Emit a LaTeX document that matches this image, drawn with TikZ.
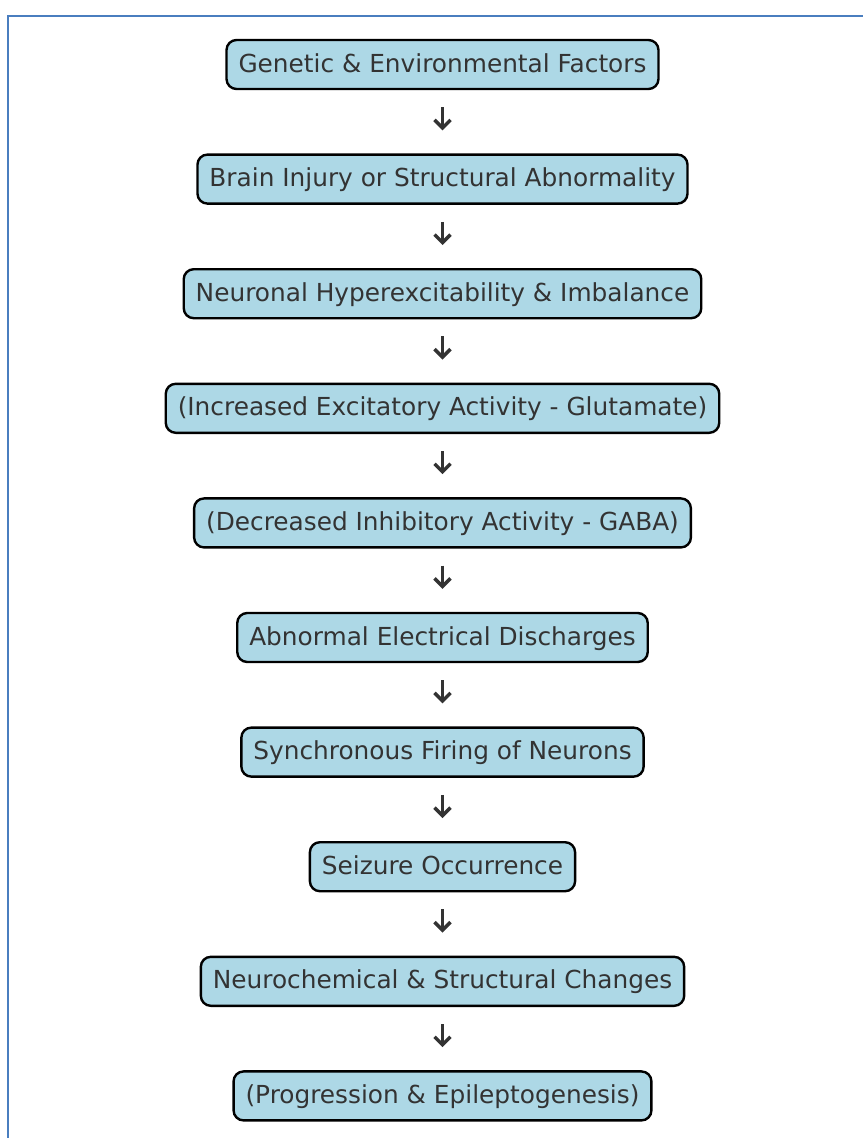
\documentclass[tikz,border=0pt]{standalone}
\usepackage{fontspec}
\setmainfont{DejaVu Sans}
\usetikzlibrary{arrows.meta}
\definecolor{boxfill}{HTML}{ADD8E6}
\definecolor{txt}{HTML}{333333}
\definecolor{framec}{HTML}{4A7EBF}
\begin{document}
\begin{tikzpicture}[x=0.75pt,y=-0.75pt,
  stage/.style={draw=black, line width=1.8pt, fill=boxfill, rounded corners=7.5pt,
    text=txt, font=\fontsize{18.6}{22}\selectfont, inner xsep=9pt, inner ysep=0pt,
    text height=14.4pt, text depth=3pt, minimum height=36.75pt},
  flow/.style={draw=txt, line width=2.6pt,
    -{Straight Barb[length=6pt,width=12pt,line width=2.6pt]},
    shorten <=12.75pt, shorten >=17.25pt}]
\useasboundingbox (0,0) rectangle (863,1138);
\draw[framec, line width=1pt] (8,1138) -- (8,16) -- (863,16);

\node[stage] (n1)  at (442.5,64.5)   {Genetic \& Environmental Factors};
\node[stage] (n2)  at (442.5,179.1)  {Brain Injury or Structural Abnormality};
\node[stage] (n3)  at (442.5,293.7)  {Neuronal Hyperexcitability \& Imbalance};
\node[stage] (n4)  at (442.5,408.3)  {(Increased Excitatory Activity - Glutamate)};
\node[stage] (n5)  at (442.5,522.9)  {(Decreased Inhibitory Activity - GABA)};
\node[stage] (n6)  at (442.5,637.5)  {Abnormal Electrical Discharges};
\node[stage] (n7)  at (442.5,752.1)  {Synchronous Firing of Neurons};
\node[stage] (n8)  at (442.5,866.7)  {Seizure Occurrence};
\node[stage] (n9)  at (442.5,981.3)  {Neurochemical \& Structural Changes};
\node[stage] (n10) at (442.5,1095.9) {(Progression \& Epileptogenesis)};

\foreach \a/\b in {n1/n2,n2/n3,n3/n4,n4/n5,n5/n6,n6/n7,n7/n8,n8/n9,n9/n10}
  \draw[flow] (\a.south) -- (\b.north);
\end{tikzpicture}
\end{document}
